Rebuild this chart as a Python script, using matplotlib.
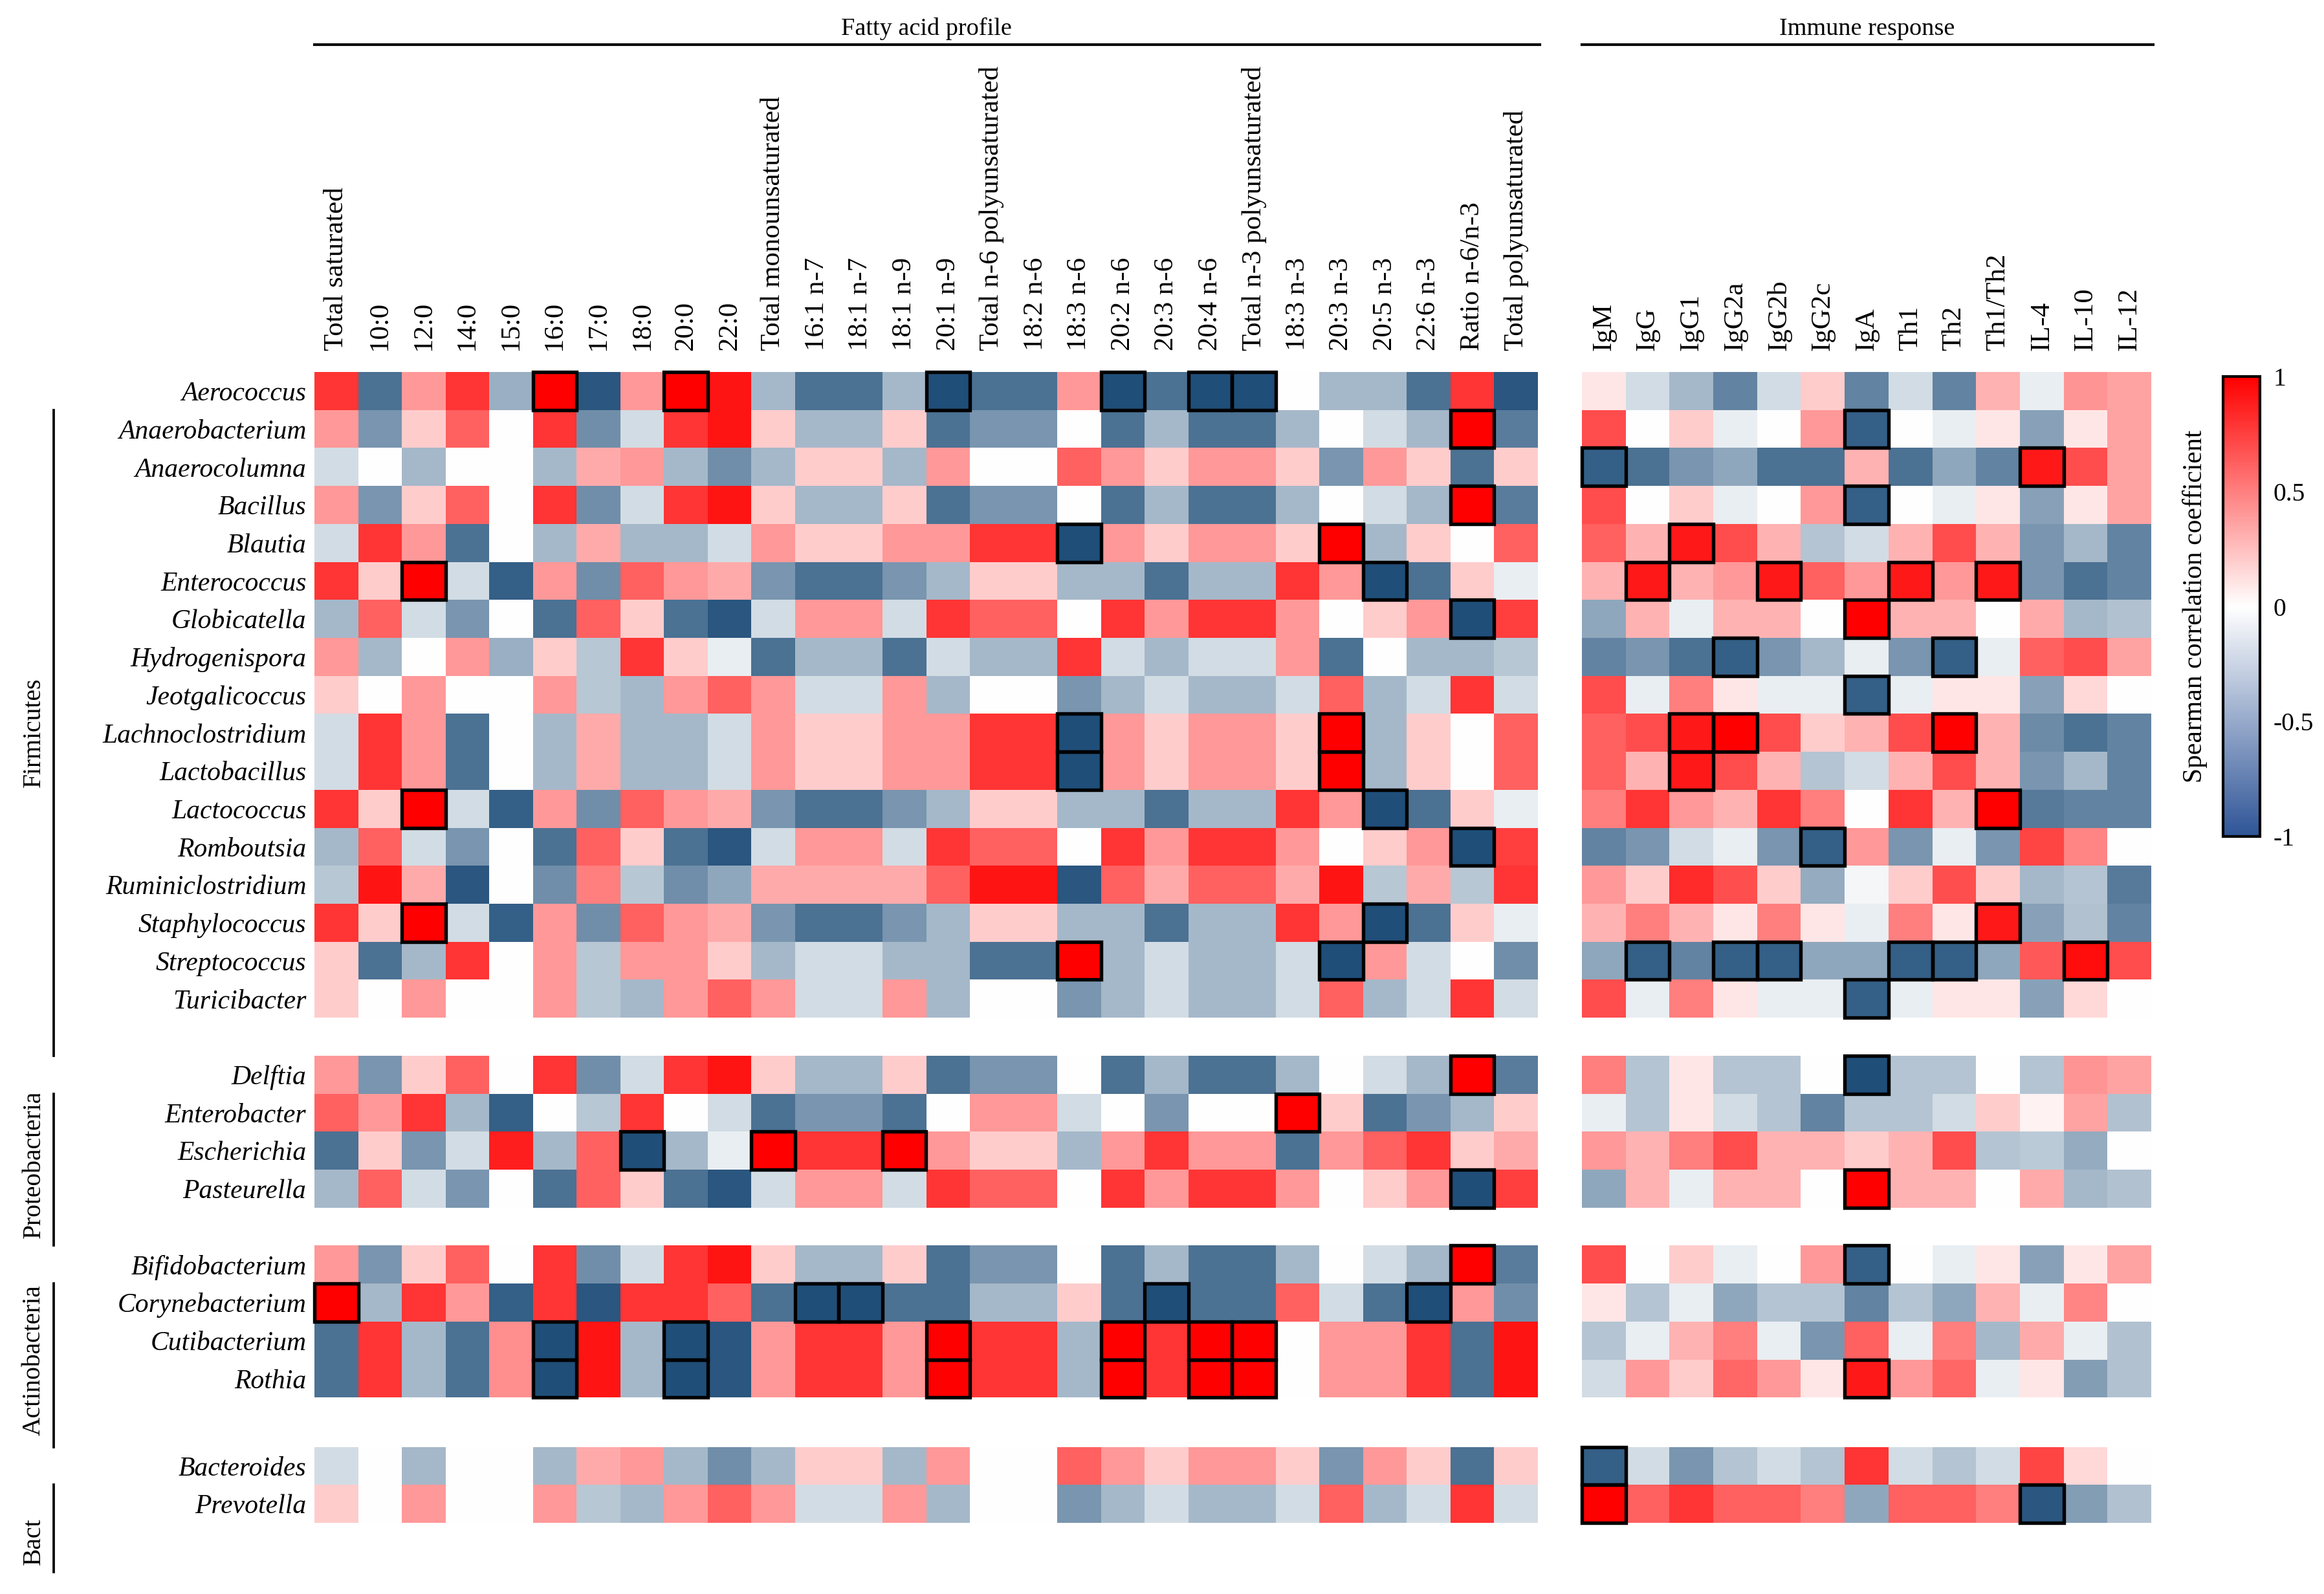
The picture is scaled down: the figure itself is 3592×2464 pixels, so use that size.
import numpy as np
import matplotlib
matplotlib.use("Agg")
import matplotlib.pyplot as plt
from matplotlib.colors import LinearSegmentedColormap, Normalize
from matplotlib.patches import Rectangle
from matplotlib.lines import Line2D
import matplotlib.transforms as mtransforms
import matplotlib.cm as cm

plt.rcParams['font.family'] = ['Liberation Serif', 'DejaVu Serif']

# ---------------- data ----------------
genera = ["Aerococcus", "Anaerobacterium", "Anaerocolumna", "Bacillus", "Blautia",
          "Enterococcus", "Globicatella", "Hydrogenispora", "Jeotgalicoccus",
          "Lachnoclostridium", "Lactobacillus", "Lactococcus", "Romboutsia",
          "Ruminiclostridium", "Staphylococcus", "Streptococcus", "Turicibacter",
          "Delftia", "Enterobacter", "Escherichia", "Pasteurella",
          "Bifidobacterium", "Corynebacterium", "Cutibacterium", "Rothia",
          "Bacteroides", "Prevotella"]
phyla = ["Firmicutes", "Proteobacteria", "Actinobacteria", "Bact"]
phylum_sizes = [17, 4, 4, 2]

fatty_acids = ["Total saturated", "10:0", "12:0", "14:0", "15:0", "16:0", "17:0", "18:0",
               "20:0", "22:0", "Total monounsaturated", "16:1 n-7", "18:1 n-7", "18:1 n-9",
               "20:1 n-9", "Total n-6 polyunsaturated", "18:2 n-6", "18:3 n-6", "20:2 n-6",
               "20:3 n-6", "20:4 n-6", "Total n-3 polyunsaturated", "18:3 n-3", "20:3 n-3",
               "20:5 n-3", "22:6 n-3", "Ratio n-6/n-3", "Total polyunsaturated"]
immune_markers = ["IgM", "IgG", "IgG1", "IgG2a", "IgG2b", "IgG2c", "IgA", "Th1", "Th2",
                  "Th1/Th2", "IL-4", "IL-10", "IL-12"]

fatty_values = [
    [0.79, -0.80, 0.40, 0.79, -0.45, 1.00, -0.95, 0.40, 1.00, 0.92, -0.40, -0.80, -0.80, -0.40, -1.00, -0.80, -0.80, 0.40, -1.00, -0.80, -1.00, -1.00, 0.00, -0.40, -0.40, -0.80, 0.79, -0.95],
    [0.40, -0.60, 0.20, 0.62, 0.00, 0.79, -0.64, -0.20, 0.79, 0.92, 0.20, -0.40, -0.40, 0.20, -0.80, -0.60, -0.60, 0.00, -0.80, -0.40, -0.80, -0.80, -0.40, 0.00, -0.20, -0.40, 1.00, -0.74],
    [-0.20, 0.00, -0.40, 0.00, 0.00, -0.40, 0.33, 0.40, -0.40, -0.64, -0.40, 0.20, 0.20, -0.40, 0.40, 0.00, 0.00, 0.62, 0.40, 0.20, 0.40, 0.40, 0.20, -0.60, 0.40, 0.20, -0.80, 0.20],
    [0.40, -0.60, 0.20, 0.62, 0.00, 0.79, -0.64, -0.20, 0.79, 0.92, 0.20, -0.40, -0.40, 0.20, -0.80, -0.60, -0.60, 0.00, -0.80, -0.40, -0.80, -0.80, -0.40, 0.00, -0.20, -0.40, 1.00, -0.74],
    [-0.20, 0.79, 0.40, -0.80, 0.00, -0.40, 0.33, -0.40, -0.40, -0.20, 0.40, 0.20, 0.20, 0.40, 0.40, 0.79, 0.79, -1.00, 0.40, 0.20, 0.40, 0.40, 0.20, 1.00, -0.40, 0.20, 0.00, 0.62],
    [0.79, 0.20, 1.00, -0.20, -0.90, 0.40, -0.64, 0.62, 0.40, 0.33, -0.60, -0.80, -0.80, -0.60, -0.40, 0.20, 0.20, -0.40, -0.40, -0.80, -0.40, -0.40, 0.79, 0.40, -1.00, -0.80, 0.20, -0.10],
    [-0.40, 0.62, -0.20, -0.60, 0.00, -0.80, 0.62, 0.20, -0.80, -0.95, -0.20, 0.40, 0.40, -0.20, 0.79, 0.62, 0.62, 0.00, 0.79, 0.40, 0.79, 0.79, 0.40, 0.00, 0.20, 0.40, -1.00, 0.75],
    [0.40, -0.40, 0.00, 0.40, -0.45, 0.20, -0.32, 0.79, 0.20, -0.10, -0.80, -0.40, -0.40, -0.80, -0.20, -0.40, -0.40, 0.79, -0.20, -0.40, -0.20, -0.20, 0.40, -0.80, 0.00, -0.40, -0.40, -0.32],
    [0.20, 0.00, 0.40, 0.00, 0.00, 0.40, -0.32, -0.40, 0.40, 0.62, 0.40, -0.20, -0.20, 0.40, -0.40, 0.00, 0.00, -0.60, -0.40, -0.20, -0.40, -0.40, -0.20, 0.62, -0.40, -0.20, 0.79, -0.20],
    [-0.20, 0.79, 0.40, -0.80, 0.00, -0.40, 0.33, -0.40, -0.40, -0.20, 0.40, 0.20, 0.20, 0.40, 0.40, 0.79, 0.79, -1.00, 0.40, 0.20, 0.40, 0.40, 0.20, 1.00, -0.40, 0.20, 0.00, 0.62],
    [-0.20, 0.79, 0.40, -0.80, 0.00, -0.40, 0.33, -0.40, -0.40, -0.20, 0.40, 0.20, 0.20, 0.40, 0.40, 0.79, 0.79, -1.00, 0.40, 0.20, 0.40, 0.40, 0.20, 1.00, -0.40, 0.20, 0.00, 0.62],
    [0.79, 0.20, 1.00, -0.20, -0.90, 0.40, -0.64, 0.62, 0.40, 0.33, -0.60, -0.80, -0.80, -0.60, -0.40, 0.20, 0.20, -0.40, -0.40, -0.80, -0.40, -0.40, 0.79, 0.40, -1.00, -0.80, 0.20, -0.10],
    [-0.40, 0.62, -0.20, -0.60, 0.00, -0.80, 0.62, 0.20, -0.80, -0.95, -0.20, 0.40, 0.40, -0.20, 0.79, 0.62, 0.62, 0.00, 0.79, 0.40, 0.79, 0.79, 0.40, 0.00, 0.20, 0.40, -1.00, 0.75],
    [-0.32, 0.92, 0.33, -0.95, 0.00, -0.64, 0.50, -0.32, -0.64, -0.50, 0.33, 0.33, 0.33, 0.33, 0.62, 0.92, 0.92, -0.95, 0.62, 0.33, 0.62, 0.62, 0.33, 0.92, -0.32, 0.33, -0.32, 0.79],
    [0.79, 0.20, 1.00, -0.20, -0.90, 0.40, -0.64, 0.62, 0.40, 0.33, -0.60, -0.80, -0.80, -0.60, -0.40, 0.20, 0.20, -0.40, -0.40, -0.80, -0.40, -0.40, 0.79, 0.40, -1.00, -0.80, 0.20, -0.10],
    [0.20, -0.80, -0.40, 0.79, 0.00, 0.40, -0.32, 0.40, 0.40, 0.20, -0.40, -0.20, -0.20, -0.40, -0.40, -0.80, -0.80, 1.00, -0.40, -0.20, -0.40, -0.40, -0.20, -1.00, 0.40, -0.20, 0.00, -0.64],
    [0.20, 0.00, 0.40, 0.00, 0.00, 0.40, -0.32, -0.40, 0.40, 0.62, 0.40, -0.20, -0.20, 0.40, -0.40, 0.00, 0.00, -0.60, -0.40, -0.20, -0.40, -0.40, -0.20, 0.62, -0.40, -0.20, 0.79, -0.20],
    [0.40, -0.60, 0.20, 0.62, 0.00, 0.79, -0.64, -0.20, 0.79, 0.92, 0.20, -0.40, -0.40, 0.20, -0.80, -0.60, -0.60, 0.00, -0.80, -0.40, -0.80, -0.80, -0.40, 0.00, -0.20, -0.40, 1.00, -0.74],
    [0.62, 0.40, 0.79, -0.40, -0.90, 0.00, -0.32, 0.79, 0.00, -0.20, -0.80, -0.60, -0.60, -0.80, 0.00, 0.40, 0.40, -0.20, 0.00, -0.60, 0.00, 0.00, 1.00, 0.20, -0.80, -0.60, -0.40, 0.20],
    [-0.80, 0.20, -0.60, -0.20, 0.88, -0.40, 0.62, -1.00, -0.40, -0.10, 1.00, 0.79, 0.79, 1.00, 0.40, 0.20, 0.20, -0.40, 0.40, 0.79, 0.40, 0.40, -0.80, 0.40, 0.62, 0.79, 0.20, 0.33],
    [-0.40, 0.62, -0.20, -0.60, 0.00, -0.80, 0.62, 0.20, -0.80, -0.95, -0.20, 0.40, 0.40, -0.20, 0.79, 0.62, 0.62, 0.00, 0.79, 0.40, 0.79, 0.79, 0.40, 0.00, 0.20, 0.40, -1.00, 0.75],
    [0.40, -0.60, 0.20, 0.62, 0.00, 0.79, -0.64, -0.20, 0.79, 0.92, 0.20, -0.40, -0.40, 0.20, -0.80, -0.60, -0.60, 0.00, -0.80, -0.40, -0.80, -0.80, -0.40, 0.00, -0.20, -0.40, 1.00, -0.74],
    [1.00, -0.40, 0.79, 0.40, -0.90, 0.79, -0.95, 0.79, 0.79, 0.62, -0.80, -1.00, -1.00, -0.80, -0.80, -0.40, -0.40, 0.20, -0.80, -1.00, -0.80, -0.80, 0.62, -0.20, -0.80, -1.00, 0.40, -0.64],
    [-0.80, 0.79, -0.40, -0.80, 0.44, -1.00, 0.92, -0.40, -1.00, -0.95, 0.40, 0.79, 0.79, 0.40, 1.00, 0.79, 0.79, -0.40, 1.00, 0.79, 1.00, 1.00, 0.00, 0.40, 0.40, 0.79, -0.80, 0.92],
    [-0.80, 0.79, -0.40, -0.80, 0.44, -1.00, 0.92, -0.40, -1.00, -0.95, 0.40, 0.79, 0.79, 0.40, 1.00, 0.79, 0.79, -0.40, 1.00, 0.79, 1.00, 1.00, 0.00, 0.40, 0.40, 0.79, -0.80, 0.92],
    [-0.20, 0.00, -0.40, 0.00, 0.00, -0.40, 0.33, 0.40, -0.40, -0.64, -0.40, 0.20, 0.20, -0.40, 0.40, 0.00, 0.00, 0.62, 0.40, 0.20, 0.40, 0.40, 0.20, -0.60, 0.40, 0.20, -0.80, 0.20],
    [0.20, 0.00, 0.40, 0.00, 0.00, 0.40, -0.32, -0.40, 0.40, 0.62, 0.40, -0.20, -0.20, 0.40, -0.40, 0.00, 0.00, -0.60, -0.40, -0.20, -0.40, -0.40, -0.20, 0.62, -0.40, -0.20, 0.79, -0.20],
]

immune_values = [
    [0.10, -0.20, -0.40, -0.70, -0.20, 0.20, -0.70, -0.20, -0.70, 0.30, -0.10, 0.42, 0.36],
    [0.70, 0.00, 0.20, -0.10, 0.00, 0.40, -0.90, 0.00, -0.10, 0.10, -0.53, 0.10, 0.36],
    [-0.90, -0.80, -0.60, -0.50, -0.80, -0.80, 0.30, -0.80, -0.50, -0.70, 0.90, 0.70, 0.36],
    [0.70, 0.00, 0.20, -0.10, 0.00, 0.40, -0.90, 0.00, -0.10, 0.10, -0.53, 0.10, 0.36],
    [0.62, 0.30, 0.90, 0.70, 0.30, -0.33, -0.20, 0.30, 0.70, 0.30, -0.60, -0.40, -0.70],
    [0.30, 0.90, 0.30, 0.40, 0.90, 0.62, 0.40, 0.90, 0.40, 0.90, -0.60, -0.80, -0.70],
    [-0.50, 0.30, -0.10, 0.30, 0.30, 0.00, 1.00, 0.30, 0.30, 0.00, 0.33, -0.40, -0.35],
    [-0.70, -0.60, -0.80, -0.90, -0.60, -0.40, -0.10, -0.60, -0.90, -0.10, 0.62, 0.70, 0.36],
    [0.70, -0.10, 0.50, 0.10, -0.10, -0.10, -0.90, -0.10, 0.10, 0.10, -0.53, 0.15, 0.00],
    [0.62, 0.70, 0.90, 1.00, 0.70, 0.20, 0.30, 0.70, 1.00, 0.30, -0.65, -0.80, -0.70],
    [0.62, 0.30, 0.90, 0.70, 0.30, -0.33, -0.20, 0.30, 0.70, 0.30, -0.60, -0.40, -0.70],
    [0.50, 0.79, 0.40, 0.30, 0.79, 0.50, 0.00, 0.79, 0.30, 1.00, -0.75, -0.70, -0.70],
    [-0.70, -0.60, -0.20, -0.10, -0.60, -0.90, 0.40, -0.60, -0.10, -0.60, 0.73, 0.48, 0.00],
    [0.40, 0.20, 0.83, 0.69, 0.20, -0.47, -0.05, 0.20, 0.69, 0.20, -0.40, -0.33, -0.75],
    [0.30, 0.50, 0.30, 0.10, 0.50, 0.10, -0.10, 0.50, 0.10, 0.90, -0.53, -0.35, -0.70],
    [-0.50, -0.90, -0.70, -0.90, -0.90, -0.50, -0.50, -0.90, -0.90, -0.50, 0.65, 0.95, 0.70],
    [0.70, -0.10, 0.50, 0.10, -0.10, -0.10, -0.90, -0.10, 0.10, 0.10, -0.53, 0.15, 0.00],
    [0.50, -0.33, 0.10, -0.33, -0.33, 0.00, -1.00, -0.33, -0.33, 0.00, -0.33, 0.42, 0.36],
    [-0.10, -0.33, 0.10, -0.20, -0.33, -0.70, -0.33, -0.33, -0.20, 0.20, 0.05, 0.36, -0.35],
    [0.40, 0.30, 0.50, 0.70, 0.30, 0.30, 0.20, 0.30, 0.70, -0.33, -0.30, -0.47, 0.00],
    [-0.50, 0.30, -0.10, 0.30, 0.30, 0.00, 1.00, 0.30, 0.30, 0.00, 0.33, -0.40, -0.35],
    [0.70, 0.00, 0.20, -0.10, 0.00, 0.40, -0.90, 0.00, -0.10, 0.10, -0.53, 0.10, 0.36],
    [0.10, -0.33, -0.10, -0.50, -0.33, -0.33, -0.70, -0.33, -0.50, 0.30, -0.10, 0.48, 0.00],
    [-0.33, -0.10, 0.30, 0.50, -0.10, -0.60, 0.62, -0.10, 0.50, -0.40, 0.33, -0.10, -0.35],
    [-0.20, 0.40, 0.20, 0.60, 0.40, 0.10, 0.90, 0.40, 0.60, -0.10, 0.10, -0.55, -0.35],
    [-0.90, -0.20, -0.60, -0.33, -0.20, -0.33, 0.79, -0.20, -0.33, -0.20, 0.73, 0.15, 0.00],
    [1.00, 0.62, 0.79, 0.62, 0.62, 0.50, -0.50, 0.62, 0.62, 0.50, -0.95, -0.55, -0.35],
]

fatty_significant = {
    "Aerococcus": ["16:0", "20:0", "20:1 n-9", "20:2 n-6", "20:4 n-6", "Total n-3 polyunsaturated"],
    "Anaerobacterium": ["Ratio n-6/n-3"],
    "Bacillus": ["Ratio n-6/n-3"],
    "Blautia": ["18:3 n-6", "20:3 n-3"],
    "Enterococcus": ["12:0", "20:5 n-3"],
    "Globicatella": ["Ratio n-6/n-3"],
    "Lachnoclostridium": ["18:3 n-6", "20:3 n-3"],
    "Lactobacillus": ["18:3 n-6", "20:3 n-3"],
    "Lactococcus": ["12:0", "20:5 n-3"],
    "Romboutsia": ["Ratio n-6/n-3"],
    "Staphylococcus": ["12:0", "20:5 n-3"],
    "Streptococcus": ["18:3 n-6", "20:3 n-3"],
    "Delftia": ["Ratio n-6/n-3"],
    "Enterobacter": ["18:3 n-3"],
    "Escherichia": ["18:0", "Total monounsaturated", "18:1 n-9"],
    "Pasteurella": ["Ratio n-6/n-3"],
    "Bifidobacterium": ["Ratio n-6/n-3"],
    "Corynebacterium": ["Total saturated", "16:1 n-7", "18:1 n-7", "20:3 n-6", "22:6 n-3"],
    "Cutibacterium": ["16:0", "20:0", "20:1 n-9", "20:2 n-6", "20:4 n-6", "Total n-3 polyunsaturated"],
    "Rothia": ["16:0", "20:0", "20:1 n-9", "20:2 n-6", "20:4 n-6", "Total n-3 polyunsaturated"],
}

immune_significant = {
    "Anaerobacterium": ["IgA"],
    "Anaerocolumna": ["IgM", "IL-4"],
    "Bacillus": ["IgA"],
    "Blautia": ["IgG1"],
    "Enterococcus": ["IgG", "IgG2b", "Th1", "Th1/Th2"],
    "Globicatella": ["IgA"],
    "Hydrogenispora": ["IgG2a", "Th2"],
    "Jeotgalicoccus": ["IgA"],
    "Lachnoclostridium": ["IgG1", "IgG2a", "Th2"],
    "Lactobacillus": ["IgG1"],
    "Lactococcus": ["Th1/Th2"],
    "Romboutsia": ["IgG2c"],
    "Staphylococcus": ["Th1/Th2"],
    "Streptococcus": ["IgG", "IgG2a", "IgG2b", "Th1", "Th2", "IL-10"],
    "Turicibacter": ["IgA"],
    "Delftia": ["IgA"],
    "Pasteurella": ["IgA"],
    "Bifidobacterium": ["IgA"],
    "Rothia": ["IgA"],
    "Bacteroides": ["IgM"],
    "Prevotella": ["IgM", "IL-4"],
}

# ---------------- layout helpers ----------------
W, H = 3592, 2464
fig = plt.figure(figsize=(W / 300, H / 300), dpi=300)


def fx(px):
    return px / W


def fy(py):
    return 1 - py / H


gaps_after = [1.0, 1.0, 1.3]
y_edges = [0.0]
row_tops = []
group_spans = []
for g, n in enumerate(phylum_sizes):
    start = y_edges[-1]
    for k in range(n):
        row_tops.append(y_edges[-1])
        y_edges.append(y_edges[-1] + 1)
    group_spans.append((start, y_edges[-1]))
    if g < len(gaps_after):
        y_edges.append(y_edges[-1] + gaps_after[g])
y_edges = np.array(y_edges)


def with_gaps(vals):
    arr = np.array(vals, float)
    out = []
    i = 0
    for g, n in enumerate(phylum_sizes):
        out.extend(list(arr[i:i + n]))
        i += n
        if g < len(gaps_after):
            out.append(np.full(arr.shape[1], np.nan))
    return np.ma.masked_invalid(np.array(out))


heat_cmap = LinearSegmentedColormap.from_list("heat", ["#1F4E79", "#FFFFFF", "#FF0000"])
heat_cmap.set_bad((1, 1, 1, 0))

top_px, bot_px = 575, 2354
ax_f = fig.add_axes([fx(486), fy(bot_px), fx(2377) - fx(486), fy(top_px) - fy(bot_px)])
ax_i = fig.add_axes([fx(2445), fy(bot_px), fx(3325) - fx(2445), fy(top_px) - fy(bot_px)])


def draw_block(ax, values, cols, sig):
    data = with_gaps(values)
    ax.pcolormesh(np.arange(len(cols) + 1), y_edges, data, cmap=heat_cmap,
                  vmin=-1, vmax=1, shading="flat")
    ax.set_xlim(0, len(cols))
    ax.set_ylim(y_edges[-1], 0)
    ax.xaxis.tick_top()
    ax.set_xticks(np.arange(len(cols)) + 0.5)
    ax.set_xticklabels(cols, rotation=90, fontsize=10.3)
    ax.tick_params(axis="x", length=0, pad=8)
    for s in ax.spines.values():
        s.set_visible(False)
    for r, gname in enumerate(genera):
        for cname in sig.get(gname, []):
            c = cols.index(cname)
            ax.add_patch(Rectangle((c, row_tops[r]), 1, 1, fill=False, ec="black",
                                   lw=1.3, zorder=3, clip_on=False))


draw_block(ax_f, fatty_values, fatty_acids, fatty_significant)
draw_block(ax_i, immune_values, immune_markers, immune_significant)

ax_f.set_yticks([t + 0.5 for t in row_tops])
ax_f.set_yticklabels(genera, fontsize=10, style="italic")
ax_f.tick_params(axis="y", length=0, pad=3)
ax_i.set_yticks([])

# ---------------- headings ----------------
fig.text(fx((486 + 2377) / 2), fy(54), "Fatty acid profile", ha="center", va="baseline",
         fontsize=9.2)
fig.text(fx((2445 + 3327) / 2), fy(54), "Immune response", ha="center", va="baseline",
         fontsize=9.2)
fig.add_artist(Line2D([fx(486), fx(2380)], [fy(69), fy(69)], color="black", lw=1.0))
fig.add_artist(Line2D([fx(2445), fx(3328)], [fy(69), fy(69)], color="black", lw=1.0))

# ---------------- phylum brackets ----------------
trans = mtransforms.blended_transform_factory(fig.transFigure, ax_f.transData)
extra_after = gaps_after + [1.3]
label_specs = [("center", None), ("bottom", -0.2), ("bottom", -0.3), ("bottom", -0.2)]
for g, name in enumerate(phyla):
    start, end = group_spans[g]
    b0, b1 = start + 1, end + extra_after[g]
    ax_f.add_line(Line2D([fx(83), fx(83)], [b0, b1], transform=trans, color="black",
                         lw=0.9, clip_on=False))
    va, off = label_specs[g]
    ypos = (b0 + b1) / 2 if va == "center" else b1 + off
    t = fig.text(fx(52), ypos, name, transform=trans, rotation=90, ha="center",
                 va=va, fontsize=9.5)
    p0 = trans.transform((0, b0))
    p1 = trans.transform((1, b1))
    t.set_clip_box(mtransforms.Bbox.from_extents(0, min(p0[1], p1[1]), fig.bbox.width,
                                                 max(p0[1], p1[1])))
    t.set_clip_on(True)

# ---------------- colorbar ----------------
cax = fig.add_axes([fx(3436), fy(1293), fx(3493) - fx(3436), fy(582) - fy(1293)])
cb_cmap = LinearSegmentedColormap.from_list("cb", ["#2F5597", "#FFFFFF", "#FF0000"])
cb = fig.colorbar(cm.ScalarMappable(norm=Normalize(-1, 1), cmap=cb_cmap), cax=cax)
cb.set_ticks([1, 0.5, 0, -0.5, -1])
cb.set_ticklabels(["1", "0.5", "0", "-0.5", "-1"])
cax.tick_params(length=0, pad=5, labelsize=9.5)
cb.outline.set_linewidth(1.0)
fig.text(fx(3393), fy(937), "Spearman correlation coefficient", rotation=90,
         ha="center", va="center", fontsize=10)

fig.savefig("out.png", dpi=300)
